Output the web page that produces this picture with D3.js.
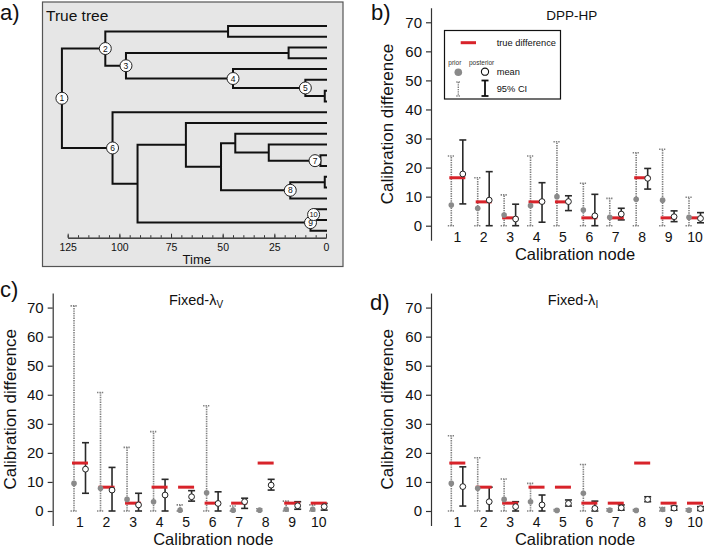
<!DOCTYPE html>
<html><head><meta charset="utf-8">
<script src="https://cdn.jsdelivr.net/npm/d3@7"></script>
<style>body{margin:0;background:#fff} svg{display:block} text{font-family:"Liberation Sans",Arial,Helvetica,sans-serif}</style>
</head><body><svg id="chart" width="705" height="547"></svg>
<script>
// ---------- DATA ----------
const nodes = ["1","2","3","4","5","6","7","8","9","10"];
const yTicks = [0,10,20,30,40,50,60,70];
const timeTicks = [125,100,75,50,25,0];
const trueDiff = [16.5, 8.2, 2.7, 8.2, 8.2, 2.7, 2.7, 16.5, 2.7, 2.7];

// b) DPP-HP
const dppPriorMean = [7.1, 6.0, 3.7, 6.9, 10.0, 5.4, 2.9, 9.1, 8.8, 2.9];
const dppPriorLow  = [0,0,0,0,0,0,0,0,0,0];
const dppPriorHigh = [24.0, 16.5, 10.6, 24.0, 28.9, 14.6, 9.4, 25.1, 26.3, 9.8];
const dppPostMean  = [17.8, 8.8, 2.3, 8.3, 8.3, 3.4, 4.0, 16.3, 3.1, 2.5];
const dppPostLow   = [7.5, 0, 0, 1.2, 5.2, 0, 2.0, 12.6, 1.4, 1.0];
const dppPostHigh  = [29.5, 18.6, 7.4, 14.8, 10.3, 10.8, 6.0, 19.7, 5.1, 4.5];

// c) Fixed-lambda V
const fvPriorMean = [9.5, 7.8, 4.0, 3.2, 0.3, 6.3, 0.3, 0.3, 0.6, 0.6];
const fvPriorLow  = [0,0,0,0,0,0,0,0,0,0];
const fvPriorHigh = [70.6, 40.8, 21.9, 27.3, 2.1, 36.2, 1.7, 0.8, 3.4, 2.1];
const fvPostMean  = [14.4, 7.2, 2.1, 5.5, 4.9, 2.6, 3.2, 8.9, 1.8, 1.5];
const fvPostLow   = [6.1, 0, 0, 0, 3.4, 0, 0.9, 7.2, 0.6, 0.3];
const fvPostHigh  = [23.5, 15.0, 6.1, 10.9, 7.0, 6.6, 4.4, 10.9, 3.2, 2.6];

// d) Fixed-lambda I
const fiPriorMean = [9.5, 7.8, 4.0, 3.2, 0.2, 6.1, 0.3, 0.2, 0.5, 0.3];
const fiPriorLow  = [0,0,0,0,0,0,0,0,0,0];
const fiPriorHigh = [25.9, 18.3, 11.0, 9.5, 0.5, 16.0, 0.8, 0.5, 1.2, 0.8];
const fiPostMean  = [8.4, 3.2, 1.5, 2.1, 2.6, 0.9, 1.1, 4.0, 1.0, 0.8];
const fiPostLow   = [1.7, 0, 0, 0, 1.7, 0, 0.3, 3.2, 0.3, 0.2];
const fiPostHigh  = [15.2, 8.2, 3.2, 5.5, 3.8, 3.4, 2.1, 4.9, 1.7, 1.5];

// a) true tree (node ages in time units before present)
const treeData = {age:127.8, label:"1", children:[
  {age:106.8, label:"2", children:[
    {age:47.4, children:[{age:0},{age:0}]},
    {age:96.8, label:"3", children:[
      {age:18.1, children:[{age:0},{age:0}]},
      {age:45, label:"4", children:[
        {age:0},
        {age:10, label:"5", children:[{age:0},{age:0.6, children:[{age:0},{age:0}]}]}
      ]}
    ]}
  ]},
  {age:103.3, label:"6", children:[
    {age:0},
    {age:91.2, children:[
      {age:67.8, children:[
        {age:0},
        {age:50.8, children:[
          {age:43.9, children:[
            {age:0},
            {age:27.7, children:[{age:0},{age:2.7, label:"7", children:[{age:0},{age:0}]}]}
          ]},
          {age:17.3, label:"8", children:[{age:0.6, children:[{age:0},{age:0}]},{age:0}]}
        ]}
      ]},
      {age:7.5, label:"9", children:[{age:6, label:"10", children:[{age:0},{age:0}]},{age:0}]}
    ]}
  ]}
]};

// ---------- DRAW ----------
const FONT = '"Liberation Sans",Arial,Helvetica,sans-serif';
const svg = d3.select("#chart");
svg.append("rect").attr("width",705).attr("height",547).attr("fill","#fff");

// ---- panel a ----
const gA = svg.append("g");
gA.append("rect").attr("x",42.5).attr("y",2).attr("width",300.5).attr("height",264.5)
  .attr("fill","#e6e6e6").attr("stroke","#555").attr("stroke-width",1.2);
const tScale = d3.scaleLinear().domain([125,0]).range([67.7,326]);
const root = d3.hierarchy(treeData);
const leaves = root.leaves();
const leafY = d3.scalePoint().domain(d3.range(leaves.length)).range([26,230.7]);
leaves.forEach((l,i)=>{ l.py = leafY(i); });
root.eachAfter(n=>{
  if(n.children){ n.py = (n.children[0].py + n.children[n.children.length-1].py)/2; }
  n.px = tScale(n.data.age);
});
let pathD = "";
root.each(n=>{
  if(n.parent){ pathD += `M${n.parent.px},${n.py}H${n.px}`; }
  if(n.children){ pathD += `M${n.px},${n.children[0].py}V${n.children[n.children.length-1].py}`; }
});
gA.append("path").attr("d",pathD).attr("fill","none").attr("stroke","#111")
  .attr("stroke-width",2).attr("stroke-linecap","square");
const labeled = root.descendants().filter(n=>n.data.label);
const ng = gA.selectAll("g.node").data(labeled).join("g")
  .attr("transform",n=>`translate(${Math.min(n.px,315)},${n.py})`);
ng.append("circle").attr("r",6).attr("fill","#fff").attr("stroke","#222").attr("stroke-width",1);
ng.append("text").text(n=>n.data.label).attr("text-anchor","middle").attr("dy","0.35em")
  .attr("font-size",n=>n.data.label.length>1?7.5:8.5).attr("fill","#111");
// time axis
const minor = gA.append("g").attr("transform","translate(0,237.7)")
  .call(d3.axisBottom(tScale).tickValues(d3.range(0,126,5)).tickSizeInner(-2.5).tickSizeOuter(0).tickFormat(""));
const major = gA.append("g").attr("transform","translate(0,237.7)")
  .call(d3.axisBottom(tScale).tickValues(timeTicks).tickSizeInner(-4).tickSizeOuter(0).tickPadding(6));
[minor,major].forEach(a=>{a.selectAll("path,line").attr("stroke","#333");});
major.selectAll("text").attr("font-size",10.5).attr("font-family",FONT).attr("fill","#111");
gA.append("text").text("Time").attr("x",196.8).attr("y",263.5).attr("text-anchor","middle").attr("font-size",13).attr("fill","#111");
gA.append("text").text("True tree").attr("x",46).attr("y",20.5).attr("font-size",15.5).attr("fill","#111");
svg.append("text").text("a)").attr("x",0).attr("y",20).attr("font-size",22).attr("fill","#111");

// ---- bar panels ----
function panel(cfg){
  const g = svg.append("g");
  const k = 2.906;
  const y = d3.scaleLinear().domain([-5,75]).range([cfg.zero+5*k, cfg.zero-75*k]);
  const x = d3.scalePoint().domain(nodes).range([cfg.axisX+cfg.x0, cfg.axisX+cfg.x1]);
  const ax = g.append("g").attr("transform",`translate(${cfg.axisX},0)`)
    .call(d3.axisLeft(y).tickValues(yTicks).tickSizeInner(5).tickSizeOuter(0).tickPadding(4));
  ax.selectAll("path,line").attr("stroke","#333").attr("stroke-width",1.2);
  ax.selectAll("text").attr("font-size",15).attr("font-family",FONT).attr("fill","#111");
  g.selectAll("text.cat").data(nodes).join("text").attr("class","cat")
    .attr("x",d=>x(d)).attr("y",cfg.zero+16).attr("text-anchor","middle")
    .attr("font-size",14).attr("fill","#111").text(d=>d);
  g.append("text").text("Calibration node").attr("x",cfg.xTitleX).attr("y",cfg.zero+cfg.xTitleDy)
    .attr("text-anchor","middle").attr("font-size",16.5).attr("fill","#111");
  g.append("text").text("Calibration difference")
    .attr("transform",`translate(${cfg.yTitleX},${y(35)}) rotate(-90)`)
    .attr("text-anchor","middle").attr("font-size",17).attr("fill","#111");
  const t = g.append("text").attr("x",cfg.titleX).attr("y",cfg.zero-206.2)
    .attr("text-anchor","middle").attr("font-size",cfg.titleSize).attr("fill","#111");
  t.append("tspan").text(cfg.title);
  if(cfg.sub) t.append("tspan").text(cfg.sub).attr("dy",3.5).attr("font-size",10);
  svg.append("text").text(cfg.letter).attr("x",cfg.letterX).attr("y",cfg.letterY).attr("font-size",22).attr("fill","#111");

  const d = cfg.data;
  const idx = d3.range(nodes.length);
  const PX = -6, QX = 5.5;
  // prior CI
  const pr = g.append("g").attr("stroke","#808080").attr("stroke-width",1.6).attr("stroke-dasharray","1.4,1");
  idx.forEach(i=>{
    const cx = x(nodes[i])+PX;
    pr.append("line").attr("x1",cx).attr("x2",cx).attr("y1",y(d.pLow[i])).attr("y2",y(d.pHigh[i]));
    [d.pLow[i], d.pHigh[i]].forEach(v=>{
      pr.append("line").attr("x1",cx-3.5).attr("x2",cx+3.5).attr("y1",y(v)).attr("y2",y(v));
    });
  });
  // posterior CI
  const po = g.append("g").attr("stroke","#2a2a2a").attr("stroke-width",1.6);
  idx.forEach(i=>{
    const cx = x(nodes[i])+QX;
    po.append("line").attr("x1",cx).attr("x2",cx).attr("y1",y(d.qLow[i])).attr("y2",y(d.qHigh[i]));
    [d.qLow[i], d.qHigh[i]].forEach(v=>{
      po.append("line").attr("x1",cx-3.5).attr("x2",cx+3.5).attr("y1",y(v)).attr("y2",y(v));
    });
  });
  // true difference
  g.selectAll("line.true").data(idx).join("line").attr("class","true")
    .attr("x1",i=>x(nodes[i])-8).attr("x2",i=>x(nodes[i])+8)
    .attr("y1",i=>y(trueDiff[i])).attr("y2",i=>y(trueDiff[i]))
    .attr("stroke","#d8232a").attr("stroke-width",3);
  // means
  g.selectAll("circle.pm").data(idx).join("circle").attr("class","pm")
    .attr("cx",i=>x(nodes[i])+PX).attr("cy",i=>y(d.pMean[i])).attr("r",2.8).attr("fill","#8a8a8a");
  g.selectAll("circle.qm").data(idx).join("circle").attr("class","qm")
    .attr("cx",i=>x(nodes[i])+QX).attr("cy",i=>y(d.qMean[i])).attr("r",2.9)
    .attr("fill","#fff").attr("stroke","#222").attr("stroke-width",1);
}

panel({axisX:431, zero:225.7, x0:26.3, x1:264, xTitleX:575, xTitleDy:34.5, yTitleX:392.5, titleX:571.7,
  title:"DPP-HP", titleSize:13.5, letter:"b)", letterX:371, letterY:20,
  data:{pMean:dppPriorMean,pLow:dppPriorLow,pHigh:dppPriorHigh,qMean:dppPostMean,qLow:dppPostLow,qHigh:dppPostHigh}});
panel({axisX:52.7, zero:511, x0:27.3, x1:266, xTitleX:213.3, xTitleDy:34, yTitleX:16, titleX:196,
  title:"Fixed-λ", sub:"V", titleSize:14.5, letter:"c)", letterX:0, letterY:297,
  data:{pMean:fvPriorMean,pLow:fvPriorLow,pHigh:fvPriorHigh,qMean:fvPostMean,qLow:fvPostLow,qHigh:fvPostHigh}});
panel({axisX:431, zero:511, x0:26.3, x1:264, xTitleX:575, xTitleDy:34, yTitleX:392.5, titleX:573,
  title:"Fixed-λ", sub:"I", titleSize:14.5, letter:"d)", letterX:370, letterY:310,
  data:{pMean:fiPriorMean,pLow:fiPriorLow,pHigh:fiPriorHigh,qMean:fiPostMean,qLow:fiPostLow,qHigh:fiPostHigh}});

// ---- legend (panel b) ----
const lg = svg.append("g");
lg.append("rect").attr("x",444.5).attr("y",30.5).attr("width",116).attr("height",68.5)
  .attr("fill","#fff").attr("stroke","#111").attr("stroke-width",1.2);
lg.append("line").attr("x1",460.7).attr("x2",476).attr("y1",42.7).attr("y2",42.7).attr("stroke","#d8232a").attr("stroke-width",3);
lg.append("text").text("true difference").attr("x",496.7).attr("y",45.5).attr("font-size",9.3).attr("fill","#111");
lg.append("text").text("prior").attr("x",448.3).attr("y",65).attr("font-size",6.5).attr("fill","#333");
lg.append("text").text("posterior").attr("x",469).attr("y",65).attr("font-size",6.5).attr("fill","#333");
lg.append("circle").attr("cx",458.3).attr("cy",72.3).attr("r",3.8).attr("fill","#8a8a8a");
lg.append("circle").attr("cx",485).attr("cy",71.7).attr("r",3.6).attr("fill","#fff").attr("stroke","#111").attr("stroke-width",1.1);
lg.append("text").text("mean").attr("x",496.7).attr("y",75).attr("font-size",9.3).attr("fill","#111");
const lp = lg.append("g").attr("stroke","#7f7f7f").attr("stroke-width",1.4).attr("stroke-dasharray","1.3,1");
lp.append("line").attr("x1",458.3).attr("x2",458.3).attr("y1",82).attr("y2",96);
lp.append("line").attr("x1",456.3).attr("x2",460.3).attr("y1",82).attr("y2",82);
lp.append("line").attr("x1",456.3).attr("x2",460.3).attr("y1",96).attr("y2",96);
const lq = lg.append("g").attr("stroke","#111").attr("stroke-width",1.8);
lq.append("line").attr("x1",485).attr("x2",485).attr("y1",80.5).attr("y2",96);
lq.append("line").attr("x1",481.5).attr("x2",488.5).attr("y1",80.5).attr("y2",80.5);
lq.append("line").attr("x1",481.5).attr("x2",488.5).attr("y1",96).attr("y2",96);
lg.append("text").text("95% CI").attr("x",496.7).attr("y",91.5).attr("font-size",9.3).attr("fill","#111");
</script></body></html>
